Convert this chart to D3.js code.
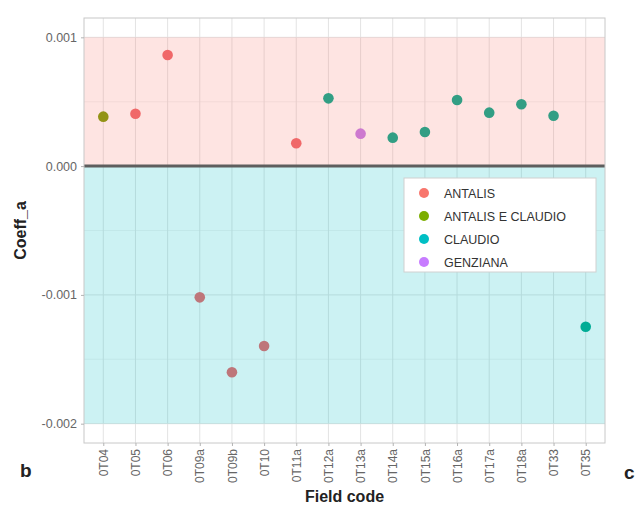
<!DOCTYPE html>
<html>
<head>
<meta charset="utf-8">
<script src="https://cdn.jsdelivr.net/npm/d3@7"></script>
<style>
  html, body { margin: 0; padding: 0; background: #ffffff; }
  svg { display: block; font-family: "Liberation Sans", Arial, sans-serif; }
</style>
</head>
<body>
<svg id="chart" width="635" height="514"></svg>
<script>
// Field codes along the x axis
const fieldCodes = ["0T04", "0T05", "0T06", "0T09a", "0T09b", "0T10", "0T11a", "0T12a",
                    "0T13a", "0T14a", "0T15a", "0T16a", "0T17a", "0T18a", "0T33", "0T35"];
// Coefficient a for each field
const coeffA = [0.000384, 0.000407, 0.000863, -0.001019, -0.001601, -0.001397, 0.000177, 0.000526,
                0.000252, 0.000221, 0.000265, 0.000513, 0.000415, 0.000480, 0.000391, -0.001247];
// Variety grown in each field
const variety = ["ANTALIS E CLAUDIO", "ANTALIS", "ANTALIS", "ANTALIS", "ANTALIS", "ANTALIS", "ANTALIS", "CLAUDIO",
                 "GENZIANA", "CLAUDIO", "CLAUDIO", "CLAUDIO", "CLAUDIO", "CLAUDIO", "CLAUDIO", "CLAUDIO"];
// Legend groups and colours
const groups = ["ANTALIS", "ANTALIS E CLAUDIO", "CLAUDIO", "GENZIANA"];
const keyColors = ["#F8766D", "#7CAE00", "#00BFC4", "#C77CFF"];
const pointColors = ["#EE6468", "#7A9A00", "#00A88A", "#C27AE8"];
// Y axis ticks
const yTicks = [0.001, 0.000, -0.001, -0.002];
const yMinorTicks = [0.0005, -0.0005, -0.0015];
// Shaded bands: positive range and negative range
const bands = [
  { from: 0, to: 0.001, color: "#F8766D" },
  { from: -0.002, to: 0, color: "#00BFC4" }
];

const svg = d3.select("#chart");
const margin = { left: 84, right: 30, top: 18, bottom: 71 };
const W = 635, H = 514;
const pw = W - margin.left - margin.right;
const ph = H - margin.top - margin.bottom;

// ggplot-style expansion: 0.6 units on discrete axis, 5% on continuous axis
const x = d3.scalePoint().domain(fieldCodes).range([margin.left, margin.left + pw]).padding(0.6);
const yLo = -0.002, yHi = 0.001, pad = (yHi - yLo) * 0.05;
const y = d3.scaleLinear().domain([yLo - pad, yHi + pad]).range([margin.top + ph, margin.top]);

const color = d3.scaleOrdinal().domain(groups).range(keyColors);
const pcolor = d3.scaleOrdinal().domain(groups).range(pointColors);

const data = fieldCodes.map((f, i) => ({ field: f, value: coeffA[i], group: variety[i] }));

const panel = svg.append("g");
panel.append("rect")
  .attr("x", margin.left).attr("y", margin.top)
  .attr("width", pw).attr("height", ph)
  .attr("fill", "#ffffff");

// Grid lines
const grid = panel.append("g");
grid.selectAll("line.minor").data(yMinorTicks).join("line")
  .attr("x1", margin.left).attr("x2", margin.left + pw)
  .attr("y1", d => y(d)).attr("y2", d => y(d))
  .attr("stroke", "#ebebeb").attr("stroke-width", 0.6);
grid.selectAll("line.majory").data(yTicks).join("line")
  .attr("x1", margin.left).attr("x2", margin.left + pw)
  .attr("y1", d => y(d)).attr("y2", d => y(d))
  .attr("stroke", "#e3e3e3").attr("stroke-width", 1);
grid.selectAll("line.majorx").data(fieldCodes).join("line")
  .attr("x1", d => x(d)).attr("x2", d => x(d))
  .attr("y1", margin.top).attr("y2", margin.top + ph)
  .attr("stroke", "#e3e3e3").attr("stroke-width", 1);

// Points
panel.append("g").selectAll("circle").data(data).join("circle")
  .attr("cx", d => x(d.field))
  .attr("cy", d => y(d.value))
  .attr("r", 5.3)
  .attr("fill", d => pcolor(d.group));

// Translucent bands over the panel
panel.append("g").selectAll("rect").data(bands).join("rect")
  .attr("x", margin.left).attr("width", pw)
  .attr("y", d => y(d.to))
  .attr("height", d => y(d.from) - y(d.to))
  .attr("fill", d => d.color)
  .attr("fill-opacity", 0.2);

// Zero line
panel.append("line")
  .attr("x1", margin.left).attr("x2", margin.left + pw)
  .attr("y1", y(0)).attr("y2", y(0))
  .attr("stroke", "#5e5e5e").attr("stroke-width", 3);

// Panel border
panel.append("rect")
  .attr("x", margin.left).attr("y", margin.top)
  .attr("width", pw).attr("height", ph)
  .attr("fill", "none").attr("stroke", "#c8c8c8").attr("stroke-width", 1);

// Axes
const yAxis = svg.append("g")
  .attr("transform", `translate(${margin.left},0)`)
  .call(d3.axisLeft(y).tickValues(yTicks).tickFormat(d3.format(".3f")).tickSize(3).tickPadding(4));
yAxis.select(".domain").remove();
yAxis.selectAll(".tick line").attr("stroke", "#b3b3b3");
yAxis.selectAll(".tick text").attr("fill", "#666").attr("font-size", 12.5)
  .attr("font-family", "Liberation Sans, Arial, sans-serif")
  .text(d => d3.format(".3f")(d).replace("−", "-"));

const xAxis = svg.append("g")
  .attr("transform", `translate(0,${margin.top + ph})`)
  .call(d3.axisBottom(x).tickSize(3));
xAxis.select(".domain").remove();
xAxis.selectAll(".tick line").attr("stroke", "#b3b3b3");
xAxis.selectAll(".tick text")
  .attr("fill", "#666").attr("font-size", 12)
  .attr("font-family", "Liberation Sans, Arial, sans-serif")
  .attr("transform", "rotate(-90)")
  .attr("text-anchor", "end")
  .attr("x", -6).attr("y", 0).attr("dy", "0.35em");

// Axis titles
svg.append("text")
  .attr("x", margin.left + pw / 2).attr("y", 502)
  .attr("text-anchor", "middle")
  .attr("font-size", 16).attr("font-weight", "bold").attr("fill", "#222")
  .text("Field code");
svg.append("text")
  .attr("transform", `translate(26,${margin.top + ph / 2}) rotate(-90)`)
  .attr("text-anchor", "middle")
  .attr("font-size", 16).attr("font-weight", "bold").attr("fill", "#222")
  .text("Coeff_a");

// Legend inside the panel
const lg = svg.append("g").attr("transform", "translate(404,178)");
lg.append("rect").attr("width", 192).attr("height", 94)
  .attr("fill", "#ffffff").attr("stroke", "#d0d0d0").attr("stroke-width", 1);
const items = lg.selectAll("g.item").data(groups).join("g")
  .attr("transform", (d, i) => `translate(0,${15 + i * 23})`);
items.append("circle").attr("cx", 20).attr("cy", 0).attr("r", 5).attr("fill", d => color(d));
items.append("text").attr("x", 40).attr("y", 0).attr("dy", "0.36em")
  .attr("font-size", 12.5).attr("fill", "#333").text(d => d);

// Panel letters
svg.append("text").attr("x", 20).attr("y", 477)
  .attr("font-size", 19).attr("font-weight", "bold").attr("fill", "#222").text("b");
svg.append("text").attr("x", 624).attr("y", 479)
  .attr("font-size", 19).attr("font-weight", "bold").attr("fill", "#222").text("c");
</script>
</body>
</html>
